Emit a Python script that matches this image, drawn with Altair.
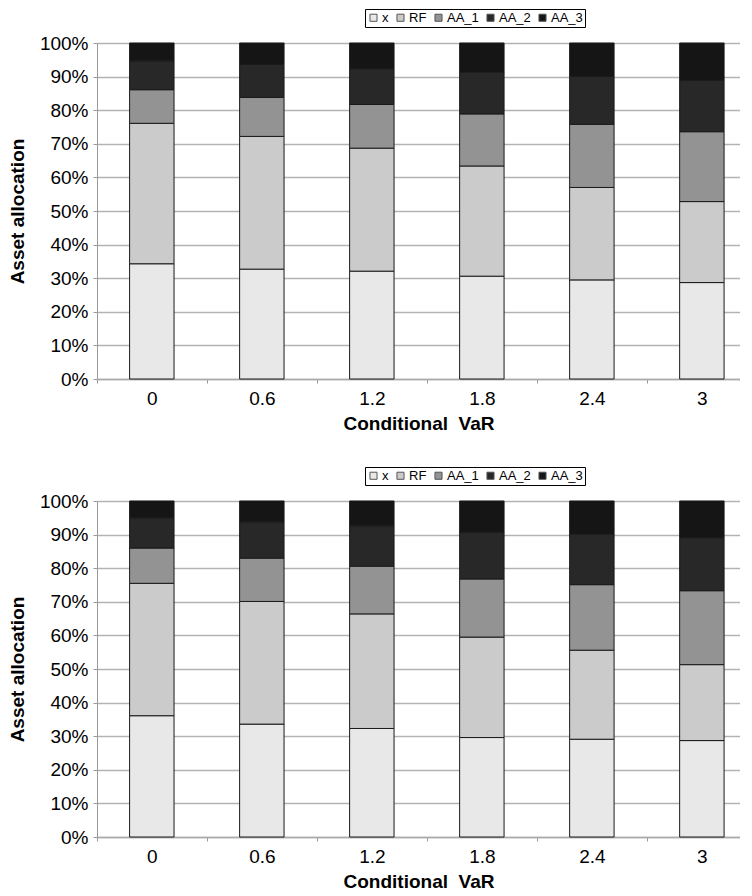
import altair as alt
import pandas as pd

categories = ["0", "0.6", "1.2", "1.8", "2.4", "3"]
series = ["x", "RF", "AA_1", "AA_2", "AA_3"]
colors = ["#e8e8e8", "#cbcbcb", "#939393", "#282828", "#151515"]

# Top panel (percent of allocation)
top_x = [34.3, 32.7, 32.1, 30.6, 29.5, 28.7]
top_rf = [41.8, 39.5, 36.6, 32.8, 27.5, 24.1]
top_aa1 = [10.0, 11.6, 13.0, 15.5, 18.8, 20.8]
top_aa2 = [8.6, 9.8, 10.7, 12.5, 14.3, 15.4]
top_aa3 = [5.3, 6.4, 7.6, 8.6, 9.9, 11.0]

# Bottom panel
bot_x = [36.1, 33.6, 32.3, 29.6, 29.1, 28.7]
bot_rf = [39.4, 36.5, 34.1, 29.9, 26.5, 22.6]
bot_aa1 = [10.5, 12.9, 14.2, 17.3, 19.5, 22.0]
bot_aa2 = [9.0, 10.8, 12.0, 14.0, 15.1, 15.8]
bot_aa3 = [5.0, 6.2, 7.4, 9.2, 9.8, 10.9]

y_ticks = [0, 0.1, 0.2, 0.3, 0.4, 0.5, 0.6, 0.7, 0.8, 0.9, 1.0]

FONT = "Liberation Sans"


def make_df(all_vals):
    rows = []
    for s_i, (s, vals) in enumerate(zip(series, all_vals)):
        for c, v in zip(categories, vals):
            rows.append({"cvar": c, "asset": s, "value": v, "ord": s_i})
    return pd.DataFrame(rows)


def panel(df):
    return alt.Chart(df).mark_bar(stroke="#1a1a1a", strokeWidth=1).encode(
        x=alt.X(
            "cvar:N",
            sort=categories,
            scale=alt.Scale(paddingInner=0.596, paddingOuter=0.2205, align=0.672),
            axis=alt.Axis(
                title="Conditional\u00a0 VaR",
                labelAngle=0,
                tickOffset=-55,
                labelOffset=55,
                tickSize=4,
                tickColor="#999999",
                domainColor="#aaaaaa",
                domainWidth=1.5,
                labelFontSize=19,
                labelPadding=6,
                titleFontSize=19,
                titleFontWeight="bold",
                titlePadding=6,
                grid=False,
            ),
        ),
        y=alt.Y(
            "value:Q",
            stack="normalize",
            scale=alt.Scale(domain=[0, 1], nice=False),
            axis=alt.Axis(
                title="Asset allocation",
                values=y_ticks,
                format=".0%",
                grid=True,
                gridColor="#b3b3b3",
                gridWidth=1.5,
                domainColor="#999999",
                tickColor="#999999",
                tickSize=4,
                labelFontSize=19,
                labelPadding=5,
                titleFontSize=19,
                titleFontWeight="bold",
                titlePadding=12,
            ),
        ),
        color=alt.Color(
            "asset:N",
            sort=series,
            scale=alt.Scale(domain=series, range=colors),
            legend=alt.Legend(
                title=None,
                orient="none",
                legendX=268,
                legendY=-34,
                direction="horizontal",
                symbolType="square",
                symbolSize=50,
                symbolStrokeColor="#555555",
                symbolStrokeWidth=1,
                labelFont=FONT,
                labelFontSize=13,
                labelOffset=2,
                columnPadding=5,
                strokeColor="#000000",
                fillColor="#ffffff",
                padding=2,
            ),
        ),
        order=alt.Order("ord:Q", sort="ascending"),
    ).properties(width=643, height=336)


top = panel(make_df([top_x, top_rf, top_aa1, top_aa2, top_aa3]))
bottom = panel(make_df([bot_x, bot_rf, bot_aa1, bot_aa2, bot_aa3]))

chart = alt.vconcat(top, bottom, spacing=33).resolve_legend(
    color="independent"
).properties(padding=0).configure_view(
    stroke=None
).configure_axis(
    labelFont=FONT, titleFont=FONT, labelColor="#000000", titleColor="#000000"
).configure_legend(
    labelColor="#000000"
)

chart.save("out.html", embed_options={"renderer": "svg", "actions": False})
